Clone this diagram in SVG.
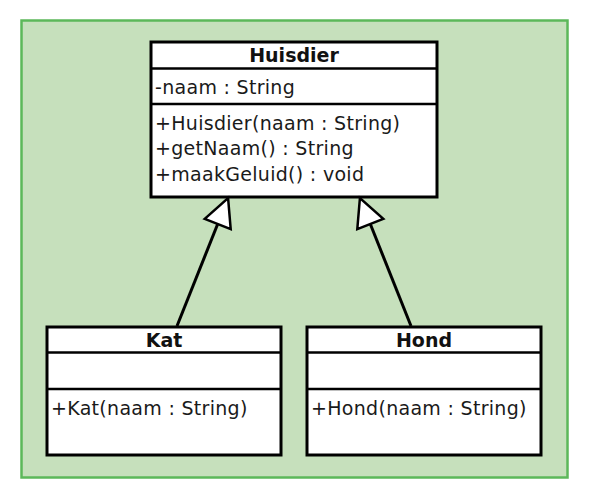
<svg xmlns="http://www.w3.org/2000/svg" width="589" height="501" viewBox="0 0 589 501">
  <style>
    .box { fill: #ffffff; stroke: #000000; stroke-width: 3; }
    .div { stroke: #000000; stroke-width: 2.5; }
    .t { font-family: "DejaVu Sans", Verdana, sans-serif; font-size: 19px; letter-spacing: 0.3px; fill: #1a1a1a; }
    .h { font-family: "DejaVu Sans", Verdana, sans-serif; font-size: 19px; font-weight: bold; fill: #111111; text-anchor: middle; }
    .conn { stroke: #000000; stroke-width: 3; fill: none; }
  </style>
  <defs>
    <marker id="gen" viewBox="-2 -2 34 34" refX="0" refY="15" markerWidth="34" markerHeight="34" markerUnits="userSpaceOnUse" orient="auto" overflow="visible">
      <path d="M0,1 L28,15 L0,29 Z" fill="#ffffff" stroke="#000000" stroke-width="2.5" stroke-linejoin="miter"/>
    </marker>
  </defs>
  <rect x="21.5" y="20.5" width="546" height="457" fill="#c6e0bc" stroke="#5cb85a" stroke-width="2.5"/>

  <g id="Huisdier">
    <rect class="box" x="151" y="42" width="286" height="155"/>
    <line class="div" x1="151" y1="68.5" x2="437" y2="68.5"/>
    <line class="div" x1="151" y1="104" x2="437" y2="104"/>
    <text class="h" x="294" y="62">Huisdier</text>
    <text class="t" x="155" y="94">-naam : String</text>
    <text class="t" x="155" y="130">+Huisdier(naam : String)</text>
    <text class="t" x="155" y="155">+getNaam() : String</text>
    <text class="t" x="155" y="181">+maakGeluid() : void</text>
  </g>

  <g id="Kat">
    <rect class="box" x="47" y="327" width="234" height="128"/>
    <line class="div" x1="47" y1="352.5" x2="281" y2="352.5"/>
    <line class="div" x1="47" y1="389" x2="281" y2="389"/>
    <text class="h" x="164" y="347">Kat</text>
    <text class="t" x="51" y="415">+Kat(naam : String)</text>
  </g>

  <g id="Hond">
    <rect class="box" x="307" y="327" width="234" height="128"/>
    <line class="div" x1="307" y1="352.5" x2="541" y2="352.5"/>
    <line class="div" x1="307" y1="389" x2="541" y2="389"/>
    <text class="h" x="424" y="347">Hond</text>
    <text class="t" x="311" y="415">+Hond(naam : String)</text>
  </g>

  <g id="connectors">
    <line class="conn" x1="177" y1="326" x2="217.7" y2="224" marker-end="url(#gen)"/>
    <line class="conn" x1="411" y1="326" x2="370.3" y2="224" marker-end="url(#gen)"/>
  </g>
</svg>
